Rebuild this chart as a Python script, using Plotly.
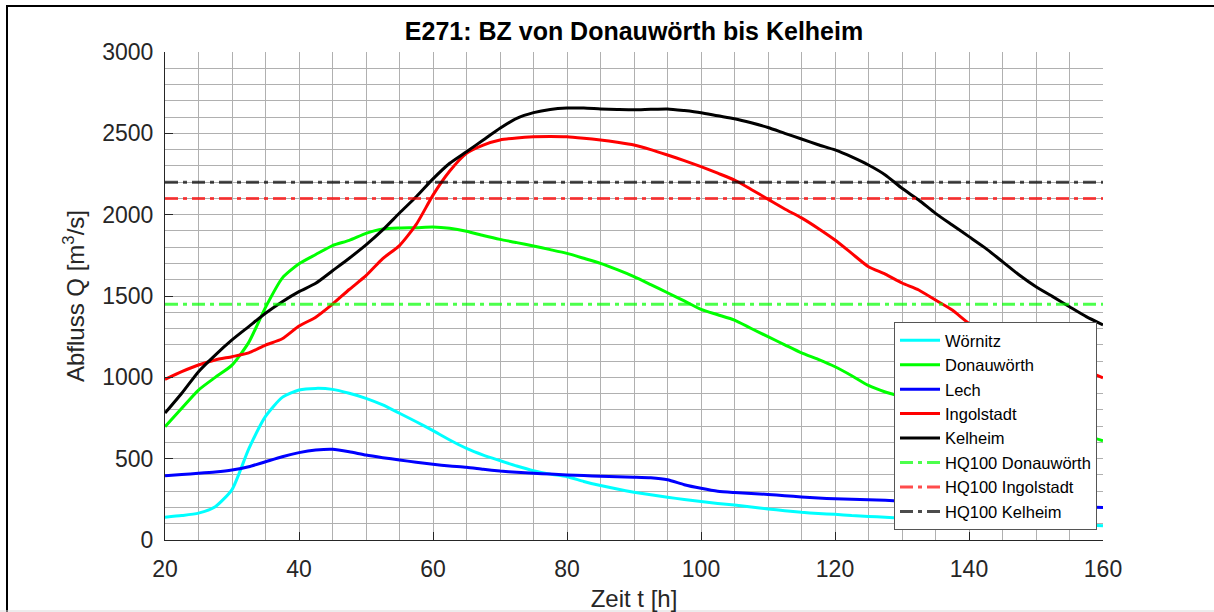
import plotly.graph_objects as go

# ---------------- data ----------------
t = [20, 22.5, 25, 27.5, 30, 32.5, 35, 37.5, 40, 42.5, 45, 47.5, 50, 52.5, 55, 57.5,
     60, 62.5, 65, 67.5, 70, 72.5, 75, 77.5, 80, 82.5, 85, 87.5, 90, 92.5, 95, 97.5,
     100, 102.5, 105, 107.5, 110, 112.5, 115, 117.5, 120, 122.5, 125, 127.5, 130, 132.5,
     135, 137.5, 140, 142.5, 145, 147.5, 150, 152.5, 155, 157.5, 160]

woernitz = [140, 150, 165, 205, 310, 560, 760, 877, 922, 932, 926, 902, 871, 830, 779, 727,
            672, 615, 563, 522, 488, 455, 426, 405, 389, 360, 335, 313, 294, 278, 263, 249,
            236, 225, 215, 203, 191, 180, 170, 163, 158, 150, 145, 140, 135, 130,
            126, 122, 118, 114, 110, 106, 103, 99, 96, 92, 88]

donauwoerth = [697, 810, 922, 1000, 1075, 1215, 1430, 1610, 1698, 1755, 1810, 1842, 1885, 1912, 1918, 1920,
               1924, 1916, 1898, 1872, 1848, 1828, 1807, 1785, 1762, 1732, 1701, 1662, 1619, 1570, 1520, 1470,
               1418, 1385, 1352, 1300, 1250, 1200, 1150, 1110, 1065, 1010, 950, 910, 880, 850,
               820, 795, 770, 745, 725, 705, 685, 670, 655, 640, 610]

lech = [395, 403, 410, 418, 430, 450, 481, 512, 537, 553, 558, 543, 522, 506, 492, 478,
        465, 455, 447, 435, 424, 416, 410, 405, 400, 396, 392, 389, 386, 382, 370, 340,
        318, 300, 292, 286, 280, 272, 265, 258, 253, 250, 247, 244, 240, 236,
        232, 228, 225, 222, 218, 215, 212, 209, 206, 203, 200]

ingolstadt = [988, 1035, 1076, 1107, 1127, 1150, 1198, 1237, 1315, 1370, 1450, 1540, 1625, 1730, 1810, 1940,
              2120, 2268, 2377, 2428, 2459, 2472, 2479, 2481, 2479, 2470, 2459, 2445, 2428, 2400, 2367, 2332,
              2295, 2255, 2213, 2155, 2095, 2035, 1980, 1915, 1844, 1762, 1680, 1635, 1580, 1537,
              1475, 1414, 1332, 1285, 1245, 1200, 1160, 1120, 1080, 1040, 997]

kelheim = [780, 902, 1035, 1137, 1230, 1312, 1394, 1465, 1527, 1578, 1655, 1732, 1814, 1906, 2010, 2110,
           2220, 2316, 2387, 2459, 2531, 2592, 2627, 2647, 2655, 2655, 2650, 2647, 2645, 2648, 2650, 2640,
           2627, 2608, 2590, 2565, 2536, 2500, 2465, 2430, 2398, 2355, 2305, 2244, 2162, 2090,
           2008, 1936, 1865, 1793, 1711, 1629, 1557, 1496, 1434, 1373, 1322]

series_names = ["Wörnitz", "Donauwörth", "Lech", "Ingolstadt", "Kelheim"]
series_values = [woernitz, donauwoerth, lech, ingolstadt, kelheim]
series_colors = ["#00ffff", "#00ff00", "#0000ff", "#ff0000", "#000000"]

hq_names = ["HQ100 Donauwörth", "HQ100 Ingolstadt", "HQ100 Kelheim"]
hq_levels = [1450, 2100, 2200]
hq_colors = ["rgba(0,255,0,0.7)", "rgba(255,0,0,0.7)", "rgba(0,0,0,0.7)"]

x_range = [20, 160]
y_range = [0, 3000]

# ---------------- figure ----------------
W, H = 1214, 612
ML, MR, MT, MB = 165, 111, 52, 72
PW, PH = W - ML - MR, H - MT - MB

fig = go.Figure()
for name, vals, col in zip(series_names, series_values, series_colors):
    fig.add_trace(go.Scatter(x=t, y=vals, name=name, mode="lines",
                             line=dict(color=col, width=3, shape="spline", smoothing=0.6)))
for name, lvl, col in zip(hq_names, hq_levels, hq_colors):
    fig.add_trace(go.Scatter(x=x_range, y=[lvl, lvl], name=name, mode="lines",
                             line=dict(color=col, width=3, dash="13px,5px,4px,5px")))

def px_x(p):
    return (p - ML) / PW

def px_y(p):
    return (H - MB - p) / PH

axis_col = "#262626"
grid_col = "#b0b0b0"
font_family = "Liberation Sans, Arial, sans-serif"

fig.update_layout(
    width=W, height=H,
    margin=dict(l=ML, r=MR, t=MT, b=MB, pad=0, autoexpand=False),
    paper_bgcolor="white", plot_bgcolor="white",
    font=dict(family=font_family, color=axis_col),
    title=dict(text="<b>E271: BZ von Donauwörth bis Kelheim</b>",
               font=dict(size=25, color="black", family=font_family),
               x=0.5, xref="paper", xanchor="center",
               y=1 - 31 / H, yref="container", yanchor="middle"),
    showlegend=True,
    legend=dict(x=px_x(1097), y=px_y(530), xanchor="right", yanchor="bottom",
                bgcolor="white", bordercolor="#555555", borderwidth=1,
                font=dict(size=16.5, color="black", family=font_family),
                itemwidth=40, tracegroupgap=0),
    xaxis=dict(range=x_range, dtick=20, tick0=0, showline=True, linecolor=axis_col, linewidth=1,
               automargin=False,
               ticks="inside", ticklen=8, tickcolor=axis_col, tickwidth=1,
               tickfont=dict(size=23, color=axis_col), ticklabelstandoff=8,
               showgrid=True, gridcolor=grid_col, gridwidth=1, zeroline=False,
               minor=dict(dtick=5, showgrid=True, gridcolor=grid_col, gridwidth=1, ticks=""),
               title=dict(text="Zeit t [h]", font=dict(size=24, color=axis_col), standoff=12)),
    yaxis=dict(range=y_range, dtick=500, tick0=0, showline=True, linecolor=axis_col, linewidth=1,
               automargin=False,
               ticks="inside", ticklen=8, tickcolor=axis_col, tickwidth=1,
               tickfont=dict(size=23, color=axis_col), ticklabelstandoff=6,
               showgrid=True, gridcolor=grid_col, gridwidth=1, zeroline=False,
               minor=dict(dtick=100, showgrid=True, gridcolor=grid_col, gridwidth=1, ticks=""),
               title=dict(text="Abfluss Q [m<sup>3</sup>/s]", font=dict(size=24, color=axis_col),
                          standoff=10)),
    shapes=[
        dict(type="rect", xref="paper", yref="paper", layer="above",
             x0=px_x(7), x1=px_x(1240), y0=px_y(640), y1=px_y(6),
             line=dict(color="black", width=2), fillcolor="rgba(0,0,0,0)"),
        dict(type="line", xref="paper", yref="paper", layer="above",
             x0=px_x(0), x1=px_x(W), y0=px_y(611), y1=px_y(611),
             line=dict(color="#d9d9d9", width=1)),
    ],
)

fig.write_html("out.html", config={"displayModeBar": False},
               post_script="document.body.style.margin='0';document.body.style.overflow='hidden';")
